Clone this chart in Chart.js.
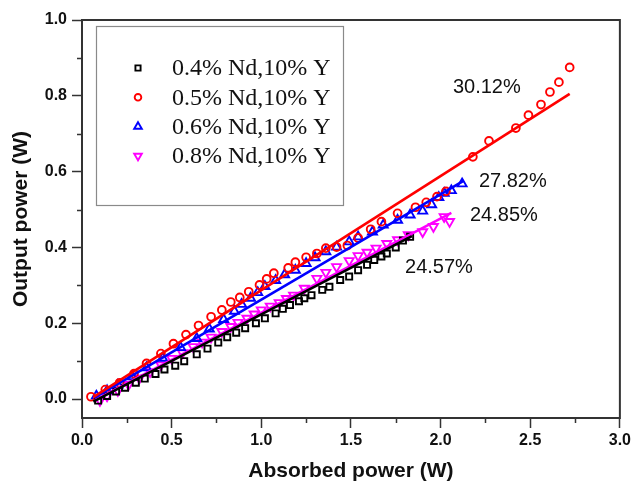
<!DOCTYPE html>
<html>
<head>
<meta charset="utf-8">
<script src="https://cdn.jsdelivr.net/npm/chart.js@4"></script>
<style>
  html, body { margin: 0; padding: 0; background: #ffffff; }
  #wrap { width: 634px; height: 484px; position: relative; }
</style>
</head>
<body>
<div id="wrap"><canvas id="c" width="634" height="484"></canvas></div>
<script>
// Sample names (legend order)
const seriesNames = ['0.4% Nd,10% Y', '0.5% Nd,10% Y', '0.6% Nd,10% Y', '0.8% Nd,10% Y'];

// Measured output power (W) vs absorbed power (W)
const absorbed04 = [0.09,0.14,0.19,0.24,0.30,0.35,0.41,0.46,0.52,0.57,0.64,0.70,0.76,0.81,0.86,0.91,0.97,1.02,1.08,1.12,1.16,1.21,1.24,1.28,1.34,1.38,1.44,1.49,1.54,1.59,1.63,1.67,1.70,1.75,1.79,1.83];
const output04   = [-0.004,0.008,0.020,0.030,0.043,0.054,0.066,0.078,0.088,0.100,0.118,0.133,0.149,0.163,0.175,0.187,0.200,0.213,0.226,0.238,0.248,0.258,0.266,0.274,0.288,0.296,0.314,0.323,0.340,0.354,0.367,0.376,0.384,0.400,0.418,0.428];

const absorbed05 = [0.05,0.13,0.21,0.29,0.36,0.44,0.51,0.58,0.65,0.72,0.78,0.83,0.88,0.93,0.99,1.03,1.07,1.15,1.19,1.25,1.31,1.36,1.42,1.48,1.54,1.61,1.67,1.76,1.86,1.92,1.98,2.03,2.18,2.27,2.42,2.49,2.56,2.61,2.66,2.72];
const output05   = [0.006,0.025,0.043,0.067,0.094,0.120,0.146,0.170,0.194,0.217,0.235,0.256,0.268,0.283,0.301,0.317,0.332,0.346,0.361,0.374,0.384,0.398,0.401,0.405,0.425,0.448,0.468,0.490,0.506,0.519,0.534,0.548,0.639,0.681,0.715,0.749,0.777,0.810,0.836,0.875];

const absorbed06 = [0.08,0.14,0.20,0.28,0.36,0.45,0.55,0.64,0.71,0.79,0.85,0.89,0.94,0.98,1.02,1.08,1.13,1.19,1.25,1.30,1.36,1.42,1.49,1.54,1.62,1.68,1.76,1.83,1.90,1.95,1.99,2.02,2.06,2.12];
const output06   = [0.008,0.022,0.037,0.059,0.083,0.108,0.136,0.160,0.185,0.210,0.232,0.250,0.266,0.281,0.297,0.313,0.328,0.340,0.358,0.373,0.389,0.401,0.415,0.428,0.441,0.459,0.472,0.486,0.496,0.513,0.532,0.543,0.550,0.568];

const absorbed08 = [0.10,0.14,0.20,0.26,0.32,0.38,0.44,0.50,0.56,0.62,0.67,0.72,0.78,0.83,0.87,0.92,0.96,1.00,1.05,1.10,1.14,1.18,1.24,1.31,1.36,1.42,1.49,1.54,1.59,1.64,1.70,1.76,1.82,1.90,1.96,2.02,2.05];
const output08   = [-0.004,0.008,0.022,0.038,0.055,0.072,0.090,0.107,0.122,0.138,0.150,0.163,0.178,0.191,0.202,0.213,0.224,0.235,0.245,0.254,0.265,0.274,0.292,0.318,0.334,0.349,0.365,0.378,0.387,0.398,0.410,0.420,0.433,0.441,0.455,0.481,0.468];

// Linear fits: slope efficiency (%), a point on the fit, and its x extent
const slopeEff   = [24.57, 30.12, 27.82, 24.85];
const fitAnchorX = [0.063, 0.063, 1.10, 0.072];
const fitAnchorY = [-0.007, 0.005, 0.290, -0.003];
const fitFromX   = [0.063, 0.063, 0.070, 0.072];
const fitToX     = [1.84, 2.72, 2.13, 2.06];

// Where each slope label sits (data units)
const labelX = [1.991, 2.258, 2.403, 2.353];
const labelY = [0.346, 0.823, 0.575, 0.483];

// Axis ticks
const xMajorTicks = [0, 0.5, 1.0, 1.5, 2.0, 2.5, 3.0];
const xMinorTicks = [0.25, 0.75, 1.25, 1.75, 2.25, 2.75];
const yMajorTicks = [0, 0.2, 0.4, 0.6, 0.8, 1.0];
const yMinorTicks = [0.1, 0.3, 0.5, 0.7, 0.9];

const colors = ['#000000', '#ff0000', '#0000ff', '#ff00ff'];
const styles = [
  { pointStyle: 'rect', rotation: 0, radius: 4.3 },
  { pointStyle: 'circle', rotation: 0, radius: 3.9 },
  { pointStyle: 'triangle', rotation: 0, radius: 5.2 },
  { pointStyle: 'triangle', rotation: 180, radius: 5.2 }
];
const xs = [absorbed04, absorbed05, absorbed06, absorbed08];
const ys = [output04, output05, output06, output08];

function pairs(xArr, yArr) { return xArr.map((x, i) => ({ x: x, y: yArr[i] })); }
function fitLine(i) {
  const k = slopeEff[i] / 100;
  return [fitFromX[i], fitToX[i]].map(x => ({ x: x, y: fitAnchorY[i] + k * (x - fitAnchorX[i]) }));
}

// Fit lines are listed first so they are painted above the markers
const datasets = [];
for (let i = 0; i < 4; i++) {
  datasets.push({
    label: 'fit ' + seriesNames[i],
    data: fitLine(i),
    showLine: true,
    borderColor: colors[i],
    borderWidth: 2.6,
    pointRadius: 0,
    fill: false
  });
}
for (let i = 0; i < 4; i++) {
  datasets.push({
    label: seriesNames[i],
    data: pairs(xs[i], ys[i]),
    showLine: false,
    borderColor: colors[i],
    backgroundColor: 'rgba(0,0,0,0)',
    pointBorderColor: colors[i],
    pointBackgroundColor: 'rgba(0,0,0,0)',
    pointBorderWidth: 1.9,
    pointStyle: styles[i].pointStyle,
    pointRotation: styles[i].rotation,
    pointRadius: styles[i].radius
  });
}

const frameColor = '#333333';

const decorations = {
  id: 'decorations',
  afterDraw(chart) {
    const ctx = chart.ctx;
    const a = chart.chartArea;
    const sx = chart.scales.x, sy = chart.scales.y;
    ctx.save();
    // minor ticks
    ctx.strokeStyle = frameColor;
    ctx.lineWidth = 1.5;
    ctx.beginPath();
    xMinorTicks.forEach(v => {
      const px = Math.round(sx.getPixelForValue(v)) + 0.5;
      ctx.moveTo(px, a.bottom); ctx.lineTo(px, a.bottom + 5);
    });
    yMinorTicks.forEach(v => {
      const py = Math.round(sy.getPixelForValue(v)) + 0.5;
      ctx.moveTo(a.left, py); ctx.lineTo(a.left - 5, py);
    });
    ctx.stroke();
    // frame
    ctx.lineWidth = 2;
    ctx.strokeRect(a.left, a.top, a.right - a.left, a.bottom - a.top);

    // slope labels
    ctx.fillStyle = '#111111';
    ctx.font = '20px "Liberation Sans", Arial, sans-serif';
    ctx.textAlign = 'center';
    ctx.textBaseline = 'middle';
    for (let i = 0; i < 4; i++) {
      ctx.fillText(slopeEff[i].toFixed(2) + '%', sx.getPixelForValue(labelX[i]), sy.getPixelForValue(labelY[i]));
    }

    // legend box
    const bx = a.left + 14, by = a.top + 6, bw = 247, bh = 179;
    ctx.fillStyle = '#ffffff';
    ctx.fillRect(bx, by, bw, bh);
    ctx.strokeStyle = '#8a8a8a';
    ctx.lineWidth = 1.2;
    ctx.strokeRect(bx + 0.5, by + 0.5, bw, bh);
    ctx.font = '24px "Liberation Serif", "Times New Roman", serif';
    ctx.textAlign = 'left';
    ctx.textBaseline = 'middle';
    for (let i = 0; i < 4; i++) {
      const rowY = by + 42 + i * 29.3;
      ctx.strokeStyle = colors[i];
      ctx.fillStyle = 'rgba(0,0,0,0)';
      ctx.lineWidth = 1.9;
      Chart.helpers.drawPoint(ctx, {
        pointStyle: styles[i].pointStyle,
        rotation: styles[i].rotation,
        radius: styles[i].radius * 0.85,
        borderWidth: 1.9
      }, bx + 42, rowY);
      ctx.fillStyle = '#111111';
      ctx.fillText(seriesNames[i], bx + 76, rowY + 1);
    }
    ctx.restore();
  }
};

new Chart(document.getElementById('c'), {
  type: 'scatter',
  data: { datasets: datasets },
  options: {
    responsive: false,
    animation: false,
    devicePixelRatio: 1,
    layout: { padding: { left: 0, right: 14, top: 20, bottom: 0 } },
    plugins: {
      legend: { display: false },
      tooltip: { enabled: false }
    },
    scales: {
      x: {
        type: 'linear',
        min: 0,
        max: 3,
        afterBuildTicks: s => { s.ticks = xMajorTicks.map(v => ({ value: v })); },
        afterFit: s => { s.height = 66; },
        border: { display: false },
        grid: { drawOnChartArea: false, drawTicks: true, tickLength: 10, tickWidth: 1.5, tickColor: frameColor },
        ticks: {
          color: '#111111',
          padding: 3,
          maxRotation: 0,
          font: { family: '"Liberation Sans", Arial, sans-serif', size: 16, weight: 'bold' },
          callback: v => Number(v).toFixed(1)
        },
        title: {
          display: true,
          text: 'Absorbed power (W)',
          color: '#111111',
          padding: { top: 5, bottom: 0 },
          font: { family: '"Liberation Sans", Arial, sans-serif', size: 21, weight: 'bold' }
        }
      },
      y: {
        type: 'linear',
        min: -0.05,
        max: 1.0,
        afterBuildTicks: s => { s.ticks = yMajorTicks.map(v => ({ value: v })); },
        afterFit: s => { s.width = 82; },
        border: { display: false },
        grid: { drawOnChartArea: false, drawTicks: true, tickLength: 10, tickWidth: 1.5, tickColor: frameColor },
        ticks: {
          color: '#111111',
          padding: 5,
          font: { family: '"Liberation Sans", Arial, sans-serif', size: 16, weight: 'bold' },
          callback: v => Number(v).toFixed(1)
        },
        title: {
          display: true,
          text: 'Output power (W)',
          color: '#111111',
          padding: { top: 9, bottom: 0 },
          font: { family: '"Liberation Sans", Arial, sans-serif', size: 21, weight: 'bold' }
        }
      }
    }
  },
  plugins: [decorations]
});
</script>
</body>
</html>
